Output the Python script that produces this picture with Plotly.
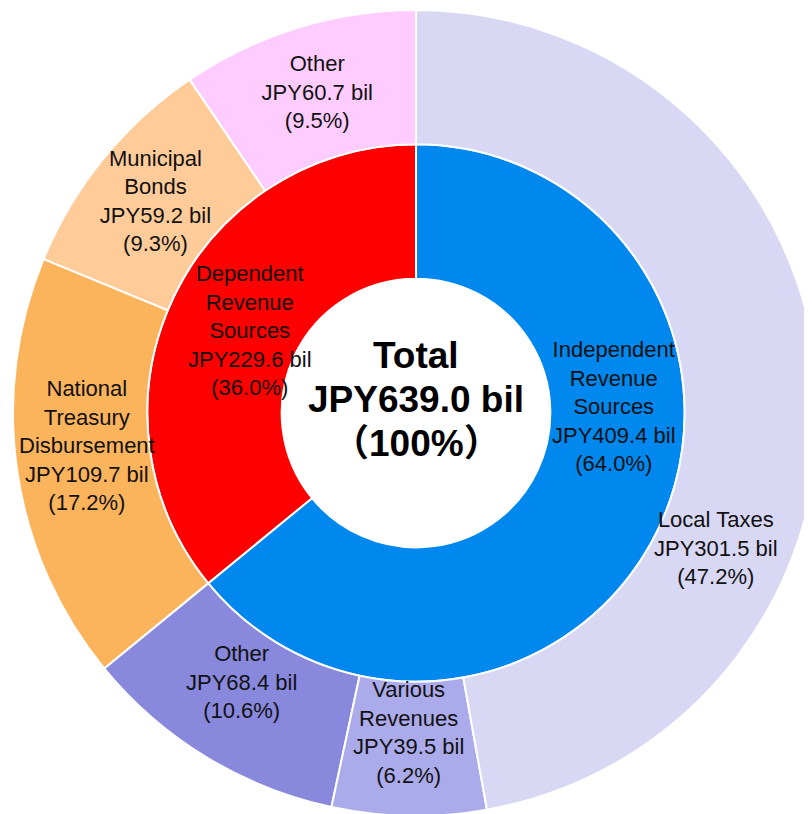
import plotly.graph_objects as go

# ---- data ----
ids = ["total",
       "dep", "dep_other", "dep_bonds", "dep_ntd",
       "ind", "ind_other", "ind_various", "ind_local"]
parents = ["",
           "total", "dep", "dep", "dep",
           "total", "ind", "ind", "ind"]
names = ["Total",
         "Dependent<br>Revenue<br>Sources", "Other", "Municipal<br>Bonds",
         "National<br>Treasury<br>Disbursement",
         "Independent<br>Revenue<br>Sources", "Other", "Various<br>Revenues",
         "Local Taxes"]
values = [639.0,
          229.6, 60.7, 59.2, 109.7,
          409.4, 68.4, 39.5, 301.5]
percents = [100.0,
            36.0, 9.5, 9.3, 17.2,
            64.0, 10.6, 6.2, 47.2]
colors = ["#FFFFFF",
          "#FF0000", "#FFCCFF", "#FFCC99", "#FBB35C",
          "#0088EE", "#8888DD", "#ABABEB", "#D8D8F4"]

FONT = "Arial, 'Liberation Sans', 'Noto Sans CJK JP', sans-serif"
LABEL_SIZE = 22

# figure geometry (pixels)
W, H = 812, 814
DX0, DX1, DY0, DY1 = 5, 811, 6, 812        # domain in px (y from bottom)
CXP = (DX0 + DX1) / 2                         # centre x (px from left)
CYP = H - (DY0 + DY1) / 2                     # centre y (px from top)

# label placement like the reference (px offsets from the centre)
label_offsets = {
    "dep": (-166, -82),
    "dep_ntd": (-329, 32),
    "ind": (198, -6),
    "ind_local": (300, 135),
    "ind_other": (-175, 269),
    "ind_various": (-8, 319),
}

tmpl = "%{text}<br>JPY%{value:.1f} bil<br>(%{customdata:.1f}%)"
templates = []
for i, pid in enumerate(ids):
    if i == 0 or pid in label_offsets:
        templates.append("")
    else:
        templates.append(tmpl)

fig = go.Figure(go.Sunburst(
    ids=ids,
    labels=ids,
    parents=parents,
    values=values,
    text=names,
    customdata=percents,
    branchvalues="total",
    sort=False,
    rotation=90,
    texttemplate=templates,
    insidetextorientation="horizontal",
    textfont=dict(family=FONT, size=LABEL_SIZE, color="#111111"),
    marker=dict(colors=colors, line=dict(color="white", width=2)),
    leaf=dict(opacity=1),
    hoverinfo="skip",
    domain=dict(x=[DX0 / W, DX1 / W], y=[DY0 / H, DY1 / H]),
))

annotations = []

# centre label, one line per annotation for tighter line spacing
center_lines = [f"<b>{names[0]}</b>",
                f"<b>JPY{values[0]:.1f} bil</b>",
                f"<b>（{percents[0]:.0f}%）</b>"]
for i, line in enumerate(center_lines):
    annotations.append(dict(
        x=CXP / W, y=1 - CYP / H, xref="paper", yref="paper", showarrow=False,
        yshift=(1 - i) * 44 + 13,
        text=line,
        font=dict(family=FONT, size=37, color="#000000"),
    ))

# slice labels
for pid, (ox, oy) in label_offsets.items():
    i = ids.index(pid)
    annotations.append(dict(
        x=(CXP + ox) / W, y=1 - (CYP + oy) / H, xref="paper", yref="paper",
        showarrow=False, xanchor="center", yanchor="middle",
        text=f"{names[i]}<br>JPY{values[i]:.1f} bil<br>({percents[i]:.1f}%)",
        font=dict(family=FONT, size=LABEL_SIZE, color="#111111"),
    ))

fig.update_layout(
    width=W, height=H,
    margin=dict(l=0, r=0, t=0, b=0),
    paper_bgcolor="white",
    font=dict(family=FONT),
    uniformtext=dict(minsize=LABEL_SIZE, mode="show"),
    annotations=annotations,
)

fig.write_html("out.html")
